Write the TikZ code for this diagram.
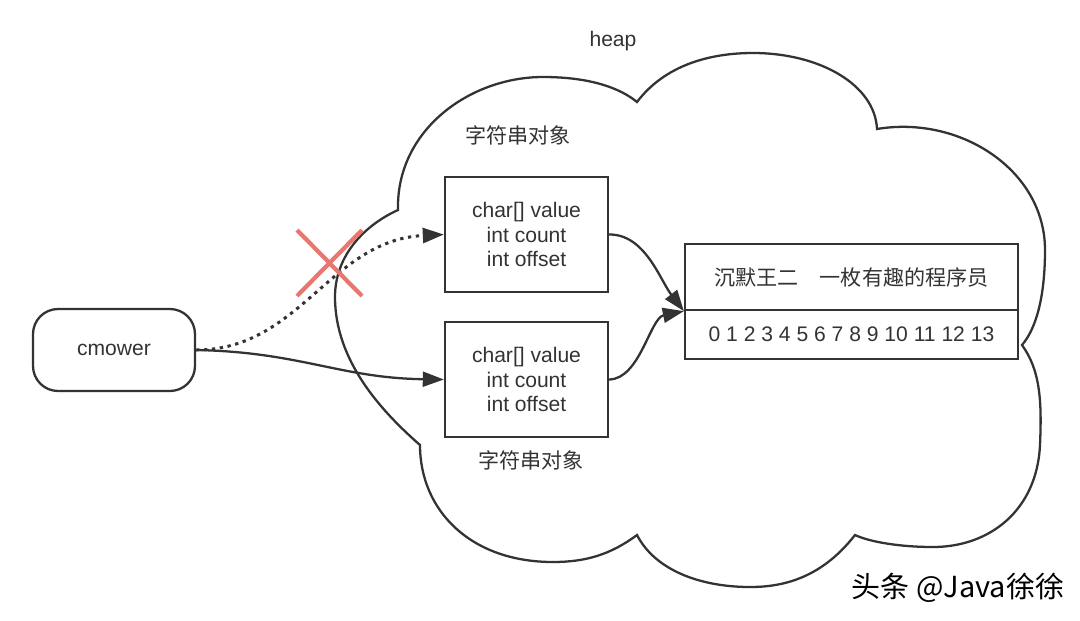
\documentclass[tikz,border=0pt]{standalone}
\usepackage{fontspec}
\setmainfont{Liberation Sans}
\newfontfamily\cjk{Noto Sans CJK SC}
\usetikzlibrary{arrows.meta}
\definecolor{ink}{HTML}{333333}
\definecolor{cross}{HTML}{E8776F}

\begin{document}
\begin{tikzpicture}[x=0.02cm, y=-0.02cm, line width=1.3pt, color=ink,
    font=\fontsize{12}{14.2}\selectfont,
    obj/.style={draw, minimum width=3.26cm, minimum height=2.3cm, align=center, inner sep=0pt},
    cell/.style={draw, minimum width=6.66cm, inner sep=0pt},
    ref/.style={-{Triangle[length=12pt,width=8.5pt]}},
    dots/.style={line width=1.7pt, dash pattern=on 1.9pt off 2.6pt}]
    \useasboundingbox (0,0) rectangle (1080,620);

    % heap
    \draw (398,210) .. controls (396,130) and (470,77) .. (543,77)
      .. controls (590,77) and (620,88) .. (637,102)
      .. controls (665,65) and (710,53) .. (753,53)
      .. controls (820,53) and (875,85) .. (877,129)
      .. controls (960,115) and (1045,170) .. (1045,250)
      .. controls (1045,300) and (1035,330) .. (1022,345)
      .. controls (1040,370) and (1042,400) .. (1040,445)
      .. controls (1037,510) and (990,547) .. (933,547)
      .. controls (900,547) and (870,542) .. (855,535)
      .. controls (820,580) and (780,587) .. (750,587)
      .. controls (700,587) and (655,570) .. (637,535)
      .. controls (610,555) and (585,562) .. (553,562)
      .. controls (470,562) and (420,510) .. (420,445)
      .. controls (380,410) and (335,360) .. (335,297)
      .. controls (335,255) and (365,225) .. (398,210) -- cycle;
    \node (heap) at (613,41) {heap};

    \node (lbl1) at (518,135) {\cjk 字符串对象};
    \node[obj] (obj1) at (526.5,234.5) {char[] value\\int count\\int offset};
    \node[obj] (obj2) at (526.5,379.5) {char[] value\\int count\\int offset};
    \node (lbl2) at (531,460) {\cjk 字符串对象};

    \node[cell, minimum height=1.32cm] (strtop) at (851.5,277) {\cjk 沉默王二\hspace{12pt}一枚有趣的程序员};
    \node[cell, minimum height=0.98cm] (strbot) at (851.5,334.5) {0 1 2 3 4 5 6 7 8 9 10 11 12 13};

    \node[draw, rounded corners=0.5cm, minimum width=3.24cm, minimum height=1.64cm] (cm) at (114,350) {cmower};

    \draw[ref, dots] (cm.east) .. controls (300,350) and (330,240) .. (obj1.west);
    \draw[ref] (cm.east) .. controls (300,352) and (340,378) .. (obj2.west);
    \draw[ref] (obj1.east) .. controls (645,234) and (660,280) .. (strtop.south west);
    \draw[ref] (obj2.east) .. controls (640,379) and (650,318) .. (strtop.south west);

    \draw[cross, line width=2.4pt] (297,230) -- (362,296) (362,230) -- (297,296);

    \node[text=black] (mark) at (958,588) {\cjk\fontsize{16.5}{19}\selectfont 头条 @Java徐徐};
  \end{tikzpicture}
\end{document}
